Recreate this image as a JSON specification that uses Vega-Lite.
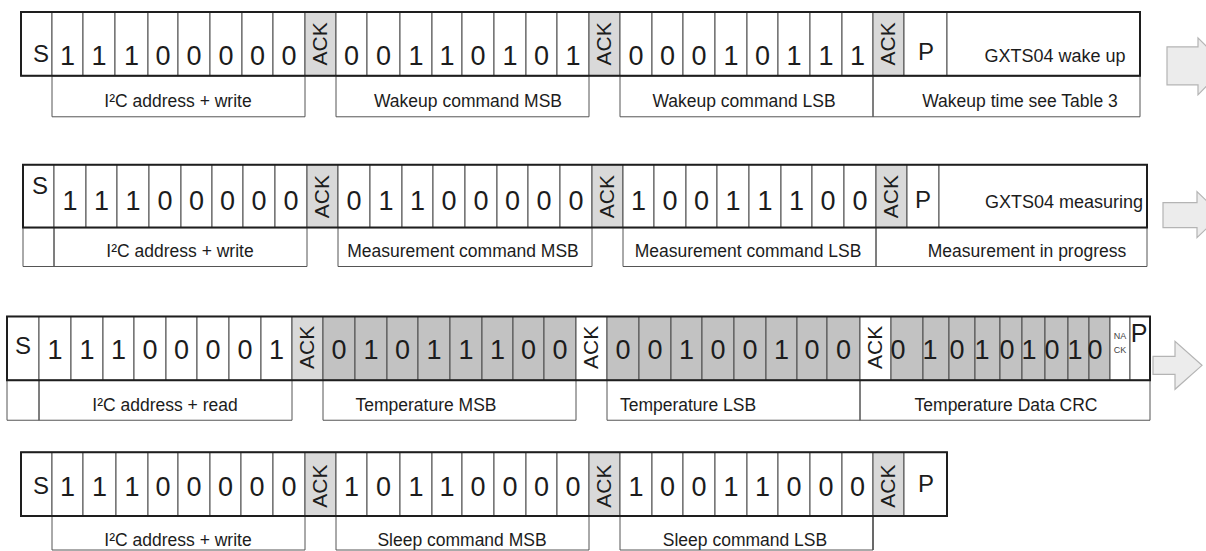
{
  "$schema": "https://vega.github.io/schema/vega-lite/v6.json",
  "width": 1206,
  "height": 551,
  "autosize": {"type": "fit", "contains": "padding"},
  "padding": 0,
  "background": "white",
  "config": {"view": {"stroke": null}},
  "datasets": {
    "cells": [
      {"x0":21,"x1":52,"y0":12,"y1":76,"k":"w"},{"x0":52,"x1":83,"y0":12,"y1":76,"k":"w"},{"x0":83,"x1":115,"y0":12,"y1":76,"k":"w"},{"x0":115,"x1":148,"y0":12,"y1":76,"k":"w"},{"x0":148,"x1":178,"y0":12,"y1":76,"k":"w"},{"x0":178,"x1":210,"y0":12,"y1":76,"k":"w"},{"x0":210,"x1":242,"y0":12,"y1":76,"k":"w"},{"x0":242,"x1":273,"y0":12,"y1":76,"k":"w"},{"x0":273,"x1":305,"y0":12,"y1":76,"k":"w"},{"x0":305,"x1":336,"y0":12,"y1":76,"k":"a"},
      {"x0":336,"x1":367,"y0":12,"y1":76,"k":"w"},{"x0":367,"x1":400,"y0":12,"y1":76,"k":"w"},{"x0":400,"x1":432,"y0":12,"y1":76,"k":"w"},{"x0":432,"x1":462,"y0":12,"y1":76,"k":"w"},{"x0":462,"x1":494,"y0":12,"y1":76,"k":"w"},{"x0":494,"x1":526,"y0":12,"y1":76,"k":"w"},{"x0":526,"x1":557,"y0":12,"y1":76,"k":"w"},{"x0":557,"x1":589,"y0":12,"y1":76,"k":"w"},{"x0":589,"x1":620,"y0":12,"y1":76,"k":"a"},
      {"x0":620,"x1":652,"y0":12,"y1":76,"k":"w"},{"x0":652,"x1":683,"y0":12,"y1":76,"k":"w"},{"x0":683,"x1":715,"y0":12,"y1":76,"k":"w"},{"x0":715,"x1":747,"y0":12,"y1":76,"k":"w"},{"x0":747,"x1":778,"y0":12,"y1":76,"k":"w"},{"x0":778,"x1":810,"y0":12,"y1":76,"k":"w"},{"x0":810,"x1":842,"y0":12,"y1":76,"k":"w"},{"x0":842,"x1":873,"y0":12,"y1":76,"k":"w"},{"x0":873,"x1":904,"y0":12,"y1":76,"k":"a"},{"x0":904,"x1":947,"y0":12,"y1":76,"k":"w"},{"x0":947,"x1":1140,"y0":12,"y1":76,"k":"w"},

      {"x0":23,"x1":54,"y0":165,"y1":228,"k":"w"},{"x0":54,"x1":86,"y0":165,"y1":228,"k":"w"},{"x0":86,"x1":117,"y0":165,"y1":228,"k":"w"},{"x0":117,"x1":149,"y0":165,"y1":228,"k":"w"},{"x0":149,"x1":181,"y0":165,"y1":228,"k":"w"},{"x0":181,"x1":212,"y0":165,"y1":228,"k":"w"},{"x0":212,"x1":243,"y0":165,"y1":228,"k":"w"},{"x0":243,"x1":275,"y0":165,"y1":228,"k":"w"},{"x0":275,"x1":307,"y0":165,"y1":228,"k":"w"},{"x0":307,"x1":338,"y0":165,"y1":228,"k":"a"},
      {"x0":338,"x1":370,"y0":165,"y1":228,"k":"w"},{"x0":370,"x1":402,"y0":165,"y1":228,"k":"w"},{"x0":402,"x1":433,"y0":165,"y1":228,"k":"w"},{"x0":433,"x1":465,"y0":165,"y1":228,"k":"w"},{"x0":465,"x1":497,"y0":165,"y1":228,"k":"w"},{"x0":497,"x1":528,"y0":165,"y1":228,"k":"w"},{"x0":528,"x1":560,"y0":165,"y1":228,"k":"w"},{"x0":560,"x1":592,"y0":165,"y1":228,"k":"w"},{"x0":592,"x1":623,"y0":165,"y1":228,"k":"a"},
      {"x0":623,"x1":654,"y0":165,"y1":228,"k":"w"},{"x0":654,"x1":686,"y0":165,"y1":228,"k":"w"},{"x0":686,"x1":717,"y0":165,"y1":228,"k":"w"},{"x0":717,"x1":749,"y0":165,"y1":228,"k":"w"},{"x0":749,"x1":781,"y0":165,"y1":228,"k":"w"},{"x0":781,"x1":812,"y0":165,"y1":228,"k":"w"},{"x0":812,"x1":844,"y0":165,"y1":228,"k":"w"},{"x0":844,"x1":876,"y0":165,"y1":228,"k":"w"},{"x0":876,"x1":907,"y0":165,"y1":228,"k":"a"},{"x0":907,"x1":939,"y0":165,"y1":228,"k":"w"},{"x0":939,"x1":1147,"y0":165,"y1":228,"k":"w"},

      {"x0":7,"x1":39,"y0":317,"y1":381,"k":"w"},{"x0":39,"x1":71,"y0":317,"y1":381,"k":"w"},{"x0":71,"x1":103,"y0":317,"y1":381,"k":"w"},{"x0":103,"x1":134,"y0":317,"y1":381,"k":"w"},{"x0":134,"x1":166,"y0":317,"y1":381,"k":"w"},{"x0":166,"x1":197,"y0":317,"y1":381,"k":"w"},{"x0":197,"x1":229,"y0":317,"y1":381,"k":"w"},{"x0":229,"x1":261,"y0":317,"y1":381,"k":"w"},{"x0":261,"x1":292,"y0":317,"y1":381,"k":"w"},{"x0":292,"x1":323,"y0":317,"y1":381,"k":"a"},
      {"x0":323,"x1":355,"y0":317,"y1":381,"k":"d"},{"x0":355,"x1":387,"y0":317,"y1":381,"k":"d"},{"x0":387,"x1":418,"y0":317,"y1":381,"k":"d"},{"x0":418,"x1":450,"y0":317,"y1":381,"k":"d"},{"x0":450,"x1":482,"y0":317,"y1":381,"k":"d"},{"x0":482,"x1":513,"y0":317,"y1":381,"k":"d"},{"x0":513,"x1":544,"y0":317,"y1":381,"k":"d"},{"x0":544,"x1":576,"y0":317,"y1":381,"k":"d"},{"x0":576,"x1":607,"y0":317,"y1":381,"k":"w"},
      {"x0":607,"x1":639,"y0":317,"y1":381,"k":"d"},{"x0":639,"x1":671,"y0":317,"y1":381,"k":"d"},{"x0":671,"x1":702,"y0":317,"y1":381,"k":"d"},{"x0":702,"x1":734,"y0":317,"y1":381,"k":"d"},{"x0":734,"x1":766,"y0":317,"y1":381,"k":"d"},{"x0":766,"x1":797,"y0":317,"y1":381,"k":"d"},{"x0":797,"x1":827,"y0":317,"y1":381,"k":"d"},{"x0":827,"x1":860,"y0":317,"y1":381,"k":"d"},{"x0":860,"x1":891,"y0":317,"y1":381,"k":"w"},
      {"x0":891,"x1":923,"y0":317,"y1":381,"k":"d"},{"x0":923,"x1":949,"y0":317,"y1":381,"k":"d"},{"x0":949,"x1":975,"y0":317,"y1":381,"k":"d"},{"x0":975,"x1":1000,"y0":317,"y1":381,"k":"d"},{"x0":1000,"x1":1022,"y0":317,"y1":381,"k":"d"},{"x0":1022,"x1":1045,"y0":317,"y1":381,"k":"d"},{"x0":1045,"x1":1068,"y0":317,"y1":381,"k":"d"},{"x0":1068,"x1":1089,"y0":317,"y1":381,"k":"d"},{"x0":1089,"x1":1110,"y0":317,"y1":381,"k":"d"},{"x0":1110,"x1":1130,"y0":317,"y1":381,"k":"w"},{"x0":1130,"x1":1150,"y0":317,"y1":381,"k":"w"},

      {"x0":21,"x1":52,"y0":453,"y1":517,"k":"w"},{"x0":52,"x1":83,"y0":453,"y1":517,"k":"w"},{"x0":83,"x1":116,"y0":453,"y1":517,"k":"w"},{"x0":116,"x1":148,"y0":453,"y1":517,"k":"w"},{"x0":148,"x1":178,"y0":453,"y1":517,"k":"w"},{"x0":178,"x1":210,"y0":453,"y1":517,"k":"w"},{"x0":210,"x1":241,"y0":453,"y1":517,"k":"w"},{"x0":241,"x1":273,"y0":453,"y1":517,"k":"w"},{"x0":273,"x1":305,"y0":453,"y1":517,"k":"w"},{"x0":305,"x1":336,"y0":453,"y1":517,"k":"a"},
      {"x0":336,"x1":367,"y0":453,"y1":517,"k":"w"},{"x0":367,"x1":400,"y0":453,"y1":517,"k":"w"},{"x0":400,"x1":432,"y0":453,"y1":517,"k":"w"},{"x0":432,"x1":462,"y0":453,"y1":517,"k":"w"},{"x0":462,"x1":494,"y0":453,"y1":517,"k":"w"},{"x0":494,"x1":526,"y0":453,"y1":517,"k":"w"},{"x0":526,"x1":557,"y0":453,"y1":517,"k":"w"},{"x0":557,"x1":589,"y0":453,"y1":517,"k":"w"},{"x0":589,"x1":620,"y0":453,"y1":517,"k":"a"},
      {"x0":620,"x1":652,"y0":453,"y1":517,"k":"w"},{"x0":652,"x1":683,"y0":453,"y1":517,"k":"w"},{"x0":683,"x1":715,"y0":453,"y1":517,"k":"w"},{"x0":715,"x1":747,"y0":453,"y1":517,"k":"w"},{"x0":747,"x1":778,"y0":453,"y1":517,"k":"w"},{"x0":778,"x1":810,"y0":453,"y1":517,"k":"w"},{"x0":810,"x1":842,"y0":453,"y1":517,"k":"w"},{"x0":842,"x1":873,"y0":453,"y1":517,"k":"w"},{"x0":873,"x1":904,"y0":453,"y1":517,"k":"a"},{"x0":904,"x1":947,"y0":453,"y1":517,"k":"w"}
    ],
    "frames": [
      {"x0":21,"x1":1140,"y0":12,"y1":76},
      {"x0":23,"x1":1147,"y0":165,"y1":228},
      {"x0":7,"x1":1150,"y0":317,"y1":381},
      {"x0":21,"x1":947,"y0":453,"y1":517}
    ],
    "boxes": [
      {"x0":52,"x1":305,"y0":76,"y1":117},{"x0":336,"x1":589,"y0":76,"y1":117},{"x0":620,"x1":873,"y0":76,"y1":117},{"x0":873,"x1":1140,"y0":76,"y1":117},
      {"x0":23,"x1":54,"y0":228,"y1":267},{"x0":54,"x1":307,"y0":228,"y1":267},{"x0":338,"x1":592,"y0":228,"y1":267},{"x0":623,"x1":876,"y0":228,"y1":267},{"x0":876,"x1":1147,"y0":228,"y1":267},
      {"x0":7,"x1":39,"y0":381,"y1":421},{"x0":39,"x1":292,"y0":381,"y1":421},{"x0":323,"x1":576,"y0":381,"y1":421},{"x0":607,"x1":860,"y0":381,"y1":421},{"x0":860,"x1":1150,"y0":381,"y1":421},
      {"x0":52,"x1":305,"y0":517,"y1":551},{"x0":336,"x1":589,"y0":517,"y1":551},{"x0":620,"x1":873,"y0":517,"y1":551},{"x0":873,"x1":873,"y0":517,"y1":551}
    ],
    "arrows": [
      {"a":1,"o":1,"x":1167,"y":47},{"a":1,"o":2,"x":1198,"y":47},{"a":1,"o":3,"x":1198,"y":38},{"a":1,"o":4,"x":1226,"y":66},{"a":1,"o":5,"x":1198,"y":95},{"a":1,"o":6,"x":1198,"y":85},{"a":1,"o":7,"x":1167,"y":85},
      {"a":2,"o":1,"x":1163,"y":203},{"a":2,"o":2,"x":1197,"y":203},{"a":2,"o":3,"x":1197,"y":192},{"a":2,"o":4,"x":1221,"y":215},{"a":2,"o":5,"x":1197,"y":238},{"a":2,"o":6,"x":1197,"y":228},{"a":2,"o":7,"x":1163,"y":228},
      {"a":3,"o":1,"x":1153,"y":357},{"a":3,"o":2,"x":1175,"y":357},{"a":3,"o":3,"x":1175,"y":342},{"a":3,"o":4,"x":1202,"y":366},{"a":3,"o":5,"x":1175,"y":390},{"a":3,"o":6,"x":1175,"y":375},{"a":3,"o":7,"x":1153,"y":375}
    ],
    "texts": [
      {"k":"bit","x":67.5,"y":65,"t":"1"},{"k":"bit","x":99,"y":65,"t":"1"},{"k":"bit","x":131.5,"y":65,"t":"1"},{"k":"bit","x":163,"y":65,"t":"0"},{"k":"bit","x":194,"y":65,"t":"0"},{"k":"bit","x":226,"y":65,"t":"0"},{"k":"bit","x":257.5,"y":65,"t":"0"},{"k":"bit","x":289,"y":65,"t":"0"},
      {"k":"bit","x":351.5,"y":65,"t":"0"},{"k":"bit","x":383.5,"y":65,"t":"0"},{"k":"bit","x":416,"y":65,"t":"1"},{"k":"bit","x":447,"y":65,"t":"1"},{"k":"bit","x":478,"y":65,"t":"0"},{"k":"bit","x":510,"y":65,"t":"1"},{"k":"bit","x":541.5,"y":65,"t":"0"},{"k":"bit","x":573,"y":65,"t":"1"},
      {"k":"bit","x":636,"y":65,"t":"0"},{"k":"bit","x":667.5,"y":65,"t":"0"},{"k":"bit","x":699,"y":65,"t":"0"},{"k":"bit","x":731,"y":65,"t":"1"},{"k":"bit","x":762.5,"y":65,"t":"0"},{"k":"bit","x":794,"y":65,"t":"1"},{"k":"bit","x":826,"y":65,"t":"1"},{"k":"bit","x":857.5,"y":65,"t":"1"},

      {"k":"bit","x":70,"y":210,"t":"1"},{"k":"bit","x":101.5,"y":210,"t":"1"},{"k":"bit","x":133,"y":210,"t":"1"},{"k":"bit","x":165,"y":210,"t":"0"},{"k":"bit","x":196.5,"y":210,"t":"0"},{"k":"bit","x":227.5,"y":210,"t":"0"},{"k":"bit","x":259,"y":210,"t":"0"},{"k":"bit","x":291,"y":210,"t":"0"},
      {"k":"bit","x":354,"y":210,"t":"0"},{"k":"bit","x":386,"y":210,"t":"1"},{"k":"bit","x":417.5,"y":210,"t":"1"},{"k":"bit","x":449,"y":210,"t":"0"},{"k":"bit","x":481,"y":210,"t":"0"},{"k":"bit","x":512.5,"y":210,"t":"0"},{"k":"bit","x":544,"y":210,"t":"0"},{"k":"bit","x":576,"y":210,"t":"0"},
      {"k":"bit","x":638.5,"y":210,"t":"1"},{"k":"bit","x":670,"y":210,"t":"0"},{"k":"bit","x":701.5,"y":210,"t":"0"},{"k":"bit","x":733,"y":210,"t":"1"},{"k":"bit","x":765,"y":210,"t":"1"},{"k":"bit","x":796.5,"y":210,"t":"1"},{"k":"bit","x":828,"y":210,"t":"0"},{"k":"bit","x":860,"y":210,"t":"0"},

      {"k":"bit","x":55,"y":360,"t":"1"},{"k":"bit","x":87,"y":360,"t":"1"},{"k":"bit","x":118.5,"y":360,"t":"1"},{"k":"bit","x":150,"y":360,"t":"0"},{"k":"bit","x":181.5,"y":360,"t":"0"},{"k":"bit","x":213,"y":360,"t":"0"},{"k":"bit","x":245,"y":360,"t":"0"},{"k":"bit","x":276.5,"y":360,"t":"1"},
      {"k":"bit","x":339,"y":360,"t":"0"},{"k":"bit","x":371,"y":360,"t":"1"},{"k":"bit","x":402.5,"y":360,"t":"0"},{"k":"bit","x":434,"y":360,"t":"1"},{"k":"bit","x":466,"y":360,"t":"1"},{"k":"bit","x":497.5,"y":360,"t":"1"},{"k":"bit","x":528.5,"y":360,"t":"0"},{"k":"bit","x":560,"y":360,"t":"0"},
      {"k":"bit","x":623,"y":360,"t":"0"},{"k":"bit","x":655,"y":360,"t":"0"},{"k":"bit","x":686.5,"y":360,"t":"1"},{"k":"bit","x":718,"y":360,"t":"0"},{"k":"bit","x":750,"y":360,"t":"0"},{"k":"bit","x":781.5,"y":360,"t":"1"},{"k":"bit","x":812,"y":360,"t":"0"},{"k":"bit","x":843.5,"y":360,"t":"0"},
      {"k":"bit","x":898,"y":360,"t":"0"},{"k":"bit","x":930,"y":360,"t":"1"},{"k":"bit","x":957,"y":360,"t":"0"},{"k":"bit","x":982,"y":360,"t":"1"},{"k":"bit","x":1007,"y":360,"t":"0"},{"k":"bit","x":1029,"y":360,"t":"1"},{"k":"bit","x":1052,"y":360,"t":"0"},{"k":"bit","x":1075,"y":360,"t":"1"},{"k":"bit","x":1095,"y":360,"t":"0"},

      {"k":"bit","x":67.5,"y":497,"t":"1"},{"k":"bit","x":99.5,"y":497,"t":"1"},{"k":"bit","x":132,"y":497,"t":"1"},{"k":"bit","x":163,"y":497,"t":"0"},{"k":"bit","x":194,"y":497,"t":"0"},{"k":"bit","x":225.5,"y":497,"t":"0"},{"k":"bit","x":257,"y":497,"t":"0"},{"k":"bit","x":289,"y":497,"t":"0"},
      {"k":"bit","x":351.5,"y":497,"t":"1"},{"k":"bit","x":383.5,"y":497,"t":"0"},{"k":"bit","x":416,"y":497,"t":"1"},{"k":"bit","x":447,"y":497,"t":"1"},{"k":"bit","x":478,"y":497,"t":"0"},{"k":"bit","x":510,"y":497,"t":"0"},{"k":"bit","x":541.5,"y":497,"t":"0"},{"k":"bit","x":573,"y":497,"t":"0"},
      {"k":"bit","x":636,"y":497,"t":"1"},{"k":"bit","x":667.5,"y":497,"t":"0"},{"k":"bit","x":699,"y":497,"t":"0"},{"k":"bit","x":731,"y":497,"t":"1"},{"k":"bit","x":762.5,"y":497,"t":"1"},{"k":"bit","x":794,"y":497,"t":"0"},{"k":"bit","x":826,"y":497,"t":"0"},{"k":"bit","x":857.5,"y":497,"t":"0"},

      {"k":"ack","x":320.5,"y":44,"t":"ACK"},{"k":"ack","x":604.5,"y":44,"t":"ACK"},{"k":"ack","x":888.5,"y":44,"t":"ACK"},
      {"k":"ack","x":322.5,"y":197,"t":"ACK"},{"k":"ack","x":607.5,"y":197,"t":"ACK"},{"k":"ack","x":891.5,"y":197,"t":"ACK"},
      {"k":"ack","x":307.5,"y":348,"t":"ACK"},{"k":"ack","x":591.5,"y":348,"t":"ACK"},{"k":"ack","x":875.5,"y":348,"t":"ACK"},
      {"k":"ack","x":320.5,"y":487,"t":"ACK"},{"k":"ack","x":604.5,"y":487,"t":"ACK"},{"k":"ack","x":888.5,"y":487,"t":"ACK"},

      {"k":"sp","x":41,"y":62,"t":"S"},{"k":"sp","x":926,"y":60,"t":"P"},
      {"k":"sp","x":40,"y":194,"t":"S"},{"k":"sp","x":923,"y":208,"t":"P"},
      {"k":"sp","x":23,"y":355,"t":"S"},
      {"k":"sp","x":41,"y":495,"t":"S"},{"k":"sp","x":926,"y":493,"t":"P"},
      {"k":"pbig","x":1139,"y":343,"t":"P"},
      {"k":"nack","x":1120,"y":340,"t":"NA"},{"k":"nack","x":1120,"y":354,"t":"CK"},

      {"k":"info","x":1055,"y":62,"t":"GXTS04 wake up"},
      {"k":"info","x":1064,"y":208,"t":"GXTS04 measuring"},

      {"k":"label","x":178,"y":107,"t":"I²C address + write"},{"k":"label","x":468,"y":107,"t":"Wakeup command MSB"},{"k":"label","x":744,"y":107,"t":"Wakeup command LSB"},{"k":"label","x":1020,"y":107,"t":"Wakeup time see Table 3"},
      {"k":"label","x":180,"y":257,"t":"I²C address + write"},{"k":"label","x":463,"y":257,"t":"Measurement command MSB"},{"k":"label","x":748,"y":257,"t":"Measurement command LSB"},{"k":"label","x":1027,"y":257,"t":"Measurement in progress"},
      {"k":"label","x":165,"y":412,"t":"I²C address + read"},{"k":"label","x":426,"y":412,"t":"Temperature MSB"},{"k":"label","x":688,"y":412,"t":"Temperature LSB"},{"k":"label","x":1006,"y":412,"t":"Temperature Data CRC"},
      {"k":"label","x":178,"y":547,"t":"I²C address + write"},{"k":"label","x":462,"y":547,"t":"Sleep command MSB"},{"k":"label","x":745,"y":547,"t":"Sleep command LSB"}
    ]
  },
  "layer": [
    {
      "data": {"name": "cells"},
      "mark": {"type": "rect", "stroke": "#4a4a4a", "strokeWidth": 1},
      "encoding": {
        "x": {"field": "x0", "type": "quantitative", "scale": {"domain": [0, 1206], "nice": false, "zero": false}, "axis": null},
        "x2": {"field": "x1"},
        "y": {"field": "y0", "type": "quantitative", "scale": {"domain": [0, 551], "nice": false, "zero": false, "reverse": true}, "axis": null},
        "y2": {"field": "y1"},
        "fill": {"field": "k", "type": "nominal", "scale": {"domain": ["w", "a", "d"], "range": ["#ffffff", "#d9d9d9", "#c2c2c2"]}, "legend": null}
      }
    },
    {
      "data": {"name": "boxes"},
      "mark": {"type": "rect", "fill": null, "fillOpacity": 0, "stroke": "#555555", "strokeWidth": 1},
      "encoding": {
        "x": {"field": "x0", "type": "quantitative"},
        "x2": {"field": "x1"},
        "y": {"field": "y0", "type": "quantitative"},
        "y2": {"field": "y1"}
      }
    },
    {
      "data": {"name": "frames"},
      "mark": {"type": "rect", "fill": null, "fillOpacity": 0, "stroke": "#1e1e1e", "strokeWidth": 2},
      "encoding": {
        "x": {"field": "x0", "type": "quantitative"},
        "x2": {"field": "x1"},
        "y": {"field": "y0", "type": "quantitative"},
        "y2": {"field": "y1"}
      }
    },
    {
      "data": {"name": "arrows"},
      "mark": {"type": "line", "interpolate": "linear-closed", "fill": "#ececec", "stroke": "#b4b4b4", "strokeWidth": 1.2, "clip": true},
      "encoding": {
        "x": {"field": "x", "type": "quantitative"},
        "y": {"field": "y", "type": "quantitative"},
        "order": {"field": "o", "type": "quantitative"},
        "detail": {"field": "a", "type": "nominal"}
      }
    },
    {
      "data": {"name": "texts"},
      "transform": [{"filter": "datum.k === 'bit'"}],
      "mark": {"type": "text", "font": "Liberation Sans", "fontSize": 27, "align": "center", "baseline": "alphabetic", "color": "#1c1c1c"},
      "encoding": {"x": {"field": "x", "type": "quantitative"}, "y": {"field": "y", "type": "quantitative"}, "text": {"field": "t"}}
    },
    {
      "data": {"name": "texts"},
      "transform": [{"filter": "datum.k === 'ack'"}],
      "mark": {"type": "text", "font": "Liberation Sans", "fontSize": 21, "angle": 270, "align": "center", "baseline": "middle", "color": "#1c1c1c"},
      "encoding": {"x": {"field": "x", "type": "quantitative"}, "y": {"field": "y", "type": "quantitative"}, "text": {"field": "t"}}
    },
    {
      "data": {"name": "texts"},
      "transform": [{"filter": "datum.k === 'sp'"}],
      "mark": {"type": "text", "font": "Liberation Sans", "fontSize": 24, "align": "center", "baseline": "alphabetic", "color": "#1c1c1c"},
      "encoding": {"x": {"field": "x", "type": "quantitative"}, "y": {"field": "y", "type": "quantitative"}, "text": {"field": "t"}}
    },
    {
      "data": {"name": "texts"},
      "transform": [{"filter": "datum.k === 'pbig'"}],
      "mark": {"type": "text", "font": "Liberation Sans", "fontSize": 25, "align": "center", "baseline": "alphabetic", "color": "#1c1c1c"},
      "encoding": {"x": {"field": "x", "type": "quantitative"}, "y": {"field": "y", "type": "quantitative"}, "text": {"field": "t"}}
    },
    {
      "data": {"name": "texts"},
      "transform": [{"filter": "datum.k === 'nack'"}],
      "mark": {"type": "text", "font": "Liberation Sans", "fontSize": 9, "align": "center", "baseline": "alphabetic", "color": "#444444"},
      "encoding": {"x": {"field": "x", "type": "quantitative"}, "y": {"field": "y", "type": "quantitative"}, "text": {"field": "t"}}
    },
    {
      "data": {"name": "texts"},
      "transform": [{"filter": "datum.k === 'info'"}],
      "mark": {"type": "text", "font": "Liberation Sans", "fontSize": 18, "align": "center", "baseline": "alphabetic", "color": "#1c1c1c"},
      "encoding": {"x": {"field": "x", "type": "quantitative"}, "y": {"field": "y", "type": "quantitative"}, "text": {"field": "t"}}
    },
    {
      "data": {"name": "texts"},
      "transform": [{"filter": "datum.k === 'label'"}],
      "mark": {"type": "text", "font": "Liberation Sans", "fontSize": 17.5, "align": "center", "baseline": "alphabetic", "color": "#1c1c1c"},
      "encoding": {"x": {"field": "x", "type": "quantitative"}, "y": {"field": "y", "type": "quantitative"}, "text": {"field": "t"}}
    }
  ]
}
